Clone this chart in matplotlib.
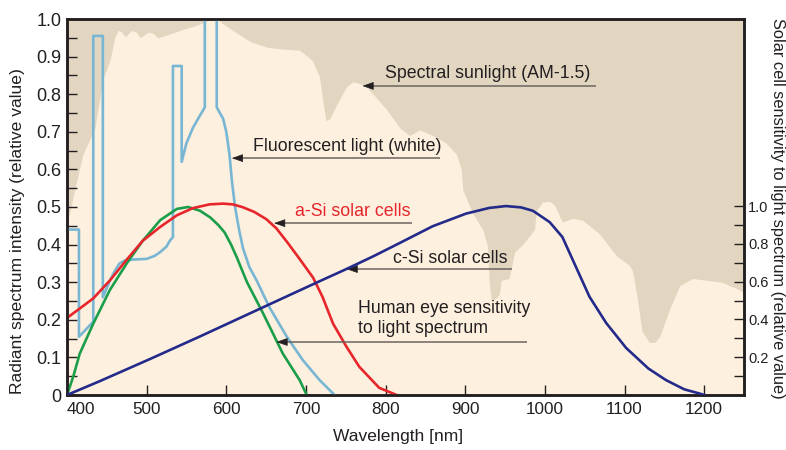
import numpy as np
import matplotlib
matplotlib.use('Agg')
import matplotlib.pyplot as plt
from matplotlib import font_manager as fm
from matplotlib.ticker import MultipleLocator, FuncFormatter

# ---------------- data ----------------
sun_nm = [400, 404, 410, 420, 435, 441, 445, 454, 460, 464, 469, 473, 481, 487, 492,
          502, 508, 514, 525, 542, 558, 571, 580, 590, 594, 608, 630, 651, 670, 692,
          708, 717, 721, 725, 730, 738, 751, 759, 768, 776, 801, 818, 830, 843, 859,
          876, 889, 895, 897, 909, 922, 928, 930, 933, 940, 943, 945, 955, 962, 972,
          987, 989, 997, 1006, 1012, 1022, 1035, 1047, 1068, 1090, 1106, 1110, 1115,
          1122, 1131, 1138, 1144, 1156, 1169, 1185, 1222, 1244, 1250]
sun_val = [0.46, 0.49, 0.55, 0.64, 0.71, 0.785, 0.84, 0.89, 0.95, 0.97, 0.965, 0.952, 0.97,
           0.965, 0.95, 0.965, 0.962, 0.95, 0.957, 0.97, 0.98, 0.99, 1.0, 1.0, 0.99, 0.97,
           0.94, 0.925, 0.92, 0.917, 0.89, 0.846, 0.785, 0.73, 0.735, 0.77, 0.82, 0.833,
           0.828, 0.82, 0.76, 0.71, 0.69, 0.705, 0.69, 0.67, 0.64, 0.60, 0.545, 0.484,
           0.44, 0.395, 0.30, 0.25, 0.26, 0.27, 0.305, 0.31, 0.38, 0.40, 0.44, 0.49,
           0.513, 0.515, 0.505, 0.46, 0.47, 0.465, 0.43, 0.37, 0.345, 0.33, 0.27, 0.17,
           0.14, 0.14, 0.155, 0.225, 0.29, 0.31, 0.30, 0.28, 0.27]

fluor_nm = [400, 415, 415, 433, 433, 445, 445, 454, 460, 466, 473, 481, 500, 510, 517,
            525, 529, 533, 533, 544, 544, 550, 558, 566, 573, 573, 588, 588, 596, 600,
            604, 607, 611, 616, 621, 629, 638, 654, 676, 696, 717, 736]
fluor_val = [0.44, 0.44, 0.155, 0.195, 0.955, 0.955, 0.26, 0.305, 0.33, 0.35, 0.358, 0.36,
             0.362, 0.37, 0.38, 0.395, 0.41, 0.42, 0.875, 0.875, 0.62, 0.67, 0.71, 0.74,
             0.765, 1.05, 1.05, 0.765, 0.735, 0.70, 0.64, 0.57, 0.50, 0.44, 0.39, 0.34,
             0.305, 0.234, 0.155, 0.093, 0.04, 0.0]

eye_nm = [400, 408, 416, 433, 454, 475, 495, 517, 538, 552, 567, 580, 590, 598, 606,
          613, 626, 646, 671, 692, 701]
eye_val = [0.0, 0.05, 0.11, 0.19, 0.28, 0.35, 0.41, 0.465, 0.495, 0.50, 0.49, 0.472,
           0.452, 0.432, 0.40, 0.367, 0.30, 0.218, 0.11, 0.04, 0.0]

asi_nm = [400, 416, 433, 454, 475, 495, 517, 538, 558, 579, 596, 608, 620, 635, 650,
          663, 677, 692, 709, 721, 734, 751, 767, 792, 814]
asi_val = [0.205, 0.23, 0.257, 0.305, 0.36, 0.41, 0.447, 0.478, 0.497, 0.507, 0.509,
           0.507, 0.50, 0.487, 0.468, 0.443, 0.405, 0.362, 0.312, 0.26, 0.19, 0.128,
           0.075, 0.019, 0.0]

csi_nm = [400, 441, 504, 567, 644, 715, 751, 785, 818, 859, 901, 930, 951, 970, 985,
          1006, 1022, 1035, 1056, 1077, 1102, 1130, 1152, 1175, 1194, 1200]
csi_val = [0.0, 0.073, 0.19, 0.31, 0.46, 0.598, 0.667, 0.735, 0.805, 0.893, 0.96, 0.99,
           1.0, 0.993, 0.975, 0.915, 0.836, 0.715, 0.52, 0.381, 0.249, 0.14, 0.079,
           0.03, 0.008, 0.0]

x_ticks = [400, 500, 600, 700, 800, 900, 1000, 1100, 1200]
right_ticks = [0.2, 0.4, 0.6, 0.8, 1.0]

# ---------------- style ----------------
TAN = '#e2d6c1'
CREAM = '#fdf0df'
C_FLUOR = '#78b6d4'
C_RED = '#e6262b'
C_GREEN = '#1a9e4a'
C_BLUE = '#232a8a'
C_TEXT = '#231f20'
C_LINE = '#6b6560'


def has_font(name):
    try:
        fm.findfont(fm.FontProperties(family=name), fallback_to_default=False)
        return True
    except Exception:
        return False


MAIN = 'Liberation Sans' if has_font('Liberation Sans') else 'DejaVu Sans'
NARROW = 'Liberation Sans Narrow' if has_font('Liberation Sans Narrow') else MAIN
XT_SIZE = 13 if NARROW != MAIN else 12.3
plt.rcParams['font.family'] = [MAIN, 'DejaVu Sans']

W, H = 786, 450
fig = plt.figure(figsize=(W / 100, H / 100), dpi=100)
fig.patch.set_facecolor('white')
ax = fig.add_axes([67 / W, 55 / H, 677 / W, 376 / H])
ax.set_facecolor(TAN)
ax.set_xlim(400, 1250)
ax.set_ylim(0, 1.0)

ax.fill_between(sun_nm, 0, sun_val, color=CREAM, lw=0, zorder=1)
ax.plot(fluor_nm, fluor_val, color=C_FLUOR, lw=1.9, zorder=3)
ax.plot(eye_nm, eye_val, color=C_GREEN, lw=1.9, zorder=4)
ax.plot(asi_nm, asi_val, color=C_RED, lw=1.9, zorder=5)

ax2 = ax.twinx()
ax2.set_ylim(0, 1.99)
ax2.plot(csi_nm, csi_val, color=C_BLUE, lw=1.9, zorder=6)

# ticks
ax.set_xticks(x_ticks, labels=[str(t) for t in x_ticks], fontfamily=NARROW, fontsize=XT_SIZE)
ax.get_xticklabels()[0].set_horizontalalignment('left')
ax.yaxis.set_major_locator(MultipleLocator(0.1))
ax.yaxis.set_minor_locator(MultipleLocator(0.05))
ax.yaxis.set_major_formatter(FuncFormatter(lambda v, p: '0' if abs(v) < 1e-9 else f'{v:.1f}'))
ax.tick_params(axis='both', which='both', direction='in', length=7, width=1.0,
               color='#231f20', labelcolor=C_TEXT)
ax.tick_params(axis='y', labelsize=13, pad=4)
ax.tick_params(axis='x', pad=5)

ax2.set_yticks(right_ticks, labels=[f'{t:.1f}' for t in right_ticks], fontfamily=NARROW, fontsize=10.5)
ax2.set_yticks([0.1, 0.3, 0.5, 0.7, 0.9], minor=True)
ax2.tick_params(axis='y', which='both', direction='in', length=7, width=1.0,
                color='#231f20', labelcolor=C_TEXT, pad=3)

for a in (ax, ax2):
    for s in a.spines.values():
        s.set_linewidth(1.8)
        s.set_color('#231f20')

# annotations (text_x, text_y, line_y, tip_x, end_x)
notes = [
    ('Spectral sunlight (AM-1.5)', C_TEXT, 799, 0.856, 0.822, 771, 1064),
    ('Fluorescent light (white)', C_TEXT, 633, 0.662, 0.630, 607, 868),
    ('a-Si solar cells', C_RED, 686, 0.489, 0.457, 660, 833),
    ('c-Si solar cells', C_TEXT, 809, 0.364, 0.335, 751, 959),
    ('Human eye sensitivity\nto light spectrum', C_TEXT, 765, 0.204, 0.141, 663, 978),
]
for txt, col, tx, ty, ly, x0, x1 in notes:
    ax.plot([x0 + 8, x1], [ly, ly], color=C_LINE, lw=1.1, zorder=7, solid_capstyle='butt')
    ax.annotate('', xy=(x0, ly), xytext=(x0 + 9, ly),
                arrowprops=dict(arrowstyle='-|>,head_length=0.7,head_width=0.25',
                                color='#231f20', lw=0.5, shrinkA=0, shrinkB=0),
                zorder=8)
    ax.text(tx, ty, txt, color=col, fontsize=12.8, ha='left', va='center',
            linespacing=1.25, zorder=8)

fig.text(398 / W, 1 - 437 / H, 'Wavelength [nm]', ha='center', va='center',
         fontsize=12.5, color=C_TEXT)
fig.text(18 / W, 1 - 231 / H, 'Radiant spectrum intensity (relative value)',
         rotation=90, ha='center', va='center', fontsize=12.6, color=C_TEXT)
fig.text(777 / W, 1 - 208 / H, 'Solar cell sensitivity to light spectrum (relative value)',
         rotation=-90, ha='center', va='center', fontsize=11.8, color=C_TEXT)

fig.savefig('out.png', dpi=100)
